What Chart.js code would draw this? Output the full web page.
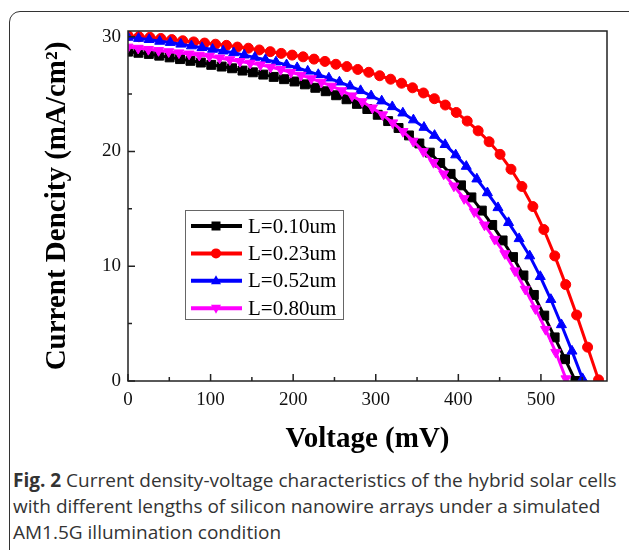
<!DOCTYPE html>
<html>
<head>
<meta charset="utf-8">
<script src="https://cdn.jsdelivr.net/npm/chart.js"></script>
<style>
  html, body { margin: 0; padding: 0; background: #fff; overflow: hidden; }
  body { width: 629px; height: 550px; position: relative; }
  #frame { position: absolute; left: 9px; top: 11px; width: 700px; height: 600px;
           border: 1.5px solid #333; border-radius: 11px; }
  #plot { position: absolute; left: 0; top: 0; }
  #caption { position: absolute; left: 13px; top: 467px; font-family: "Open Sans"; font-size: 19px;
             line-height: 26px; color: #333; white-space: nowrap; }
</style>
</head>
<body>
<div id="frame"></div>
<canvas id="plot" width="629" height="465"></canvas>
<div id="caption"><b>Fig. 2</b> Current density-voltage characteristics of the hybrid solar cells<br>with different lengths of silicon nanowire arrays under a simulated<br>AM1.5G illumination condition</div>
<script>
// series: voltage (mV) and current density (mA/cm2)
const labels = ['L=0.10um', 'L=0.23um', 'L=0.52um', 'L=0.80um'];

const vBlack = [0, 12.6, 25.2, 37.8, 50.4, 63, 75.6, 88.2, 100.8, 113.4, 126, 138.6, 151.2, 163.8, 176.4,
  189, 201.6, 214.2, 226.8, 239.4, 252, 264.6, 277.2, 289.8, 302.4, 315, 327.6, 340.2, 352.8, 365.4,
  378, 390.6, 403.2, 415.8, 428.4, 441, 453.6, 466.2, 478.8, 491.4, 504, 516.6, 529.2, 541.8];
const jBlack = [28.7, 28.6, 28.5, 28.35, 28.2, 28.05, 27.9, 27.75, 27.55, 27.4, 27.25, 27.05, 26.9, 26.7, 26.5,
  26.3, 26.1, 25.85, 25.55, 25.25, 24.9, 24.55, 24.15, 23.7, 23.2, 22.65, 22.05, 21.4, 20.7, 19.9,
  19.0, 18.05, 17.05, 16.0, 14.85, 13.6, 12.25, 10.8, 9.2, 7.5, 5.7, 3.8, 1.9, 0];

const vRed = [0, 13.25, 26.5, 39.75, 53, 66.25, 79.5, 92.75, 106, 119.25, 132.5, 145.75, 159, 172.25, 185.5,
  198.75, 212, 225.25, 238.5, 251.75, 265, 278.25, 291.5, 304.75, 318, 331.25, 344.5, 357.75, 371, 384.25,
  397.5, 410.75, 424, 437.25, 450.5, 463.75, 477, 490.25, 503.5, 516.75, 530, 543.25, 556.5, 569.75];
const jRed = [30.1, 30.0, 29.95, 29.85, 29.75, 29.65, 29.55, 29.45, 29.35, 29.25, 29.1, 29.0, 28.85, 28.7, 28.55,
  28.4, 28.25, 28.05, 27.85, 27.6, 27.4, 27.15, 26.9, 26.6, 26.3, 25.95, 25.55, 25.1, 24.6, 24.05,
  23.4, 22.65, 21.8, 20.85, 19.75, 18.45, 16.95, 15.2, 13.2, 10.9, 8.4, 5.75, 2.95, 0.1];

const vBlue = [0, 12.8, 25.6, 38.4, 51.2, 64, 76.8, 89.6, 102.4, 115.2, 128, 140.8, 153.6, 166.4, 179.2,
  192, 204.8, 217.6, 230.4, 243.2, 256, 268.8, 281.6, 294.4, 307.2, 320, 332.8, 345.6, 358.4, 371.2,
  384, 396.8, 409.6, 422.4, 435.2, 448, 460.8, 473.6, 486.4, 499.2, 512, 524.8, 537.6, 550.4];
const jBlue = [29.95, 29.85, 29.75, 29.6, 29.5, 29.35, 29.2, 29.05, 28.9, 28.75, 28.6, 28.4, 28.2, 28.0, 27.8,
  27.55, 27.3, 27.0, 26.7, 26.4, 26.05, 25.7, 25.3, 24.85, 24.4, 23.9, 23.35, 22.75, 22.1, 21.4,
  20.6, 19.7, 18.7, 17.6, 16.4, 15.1, 13.8, 12.4, 10.9, 9.1, 7.1, 4.9, 2.6, 0.2];

const vMagenta = [0, 12.33, 24.66, 37, 49.3, 61.65, 74, 86.3, 98.6, 111, 123.3, 135.6, 148, 160.3, 172.6,
  185, 197.3, 209.6, 222, 234.3, 246.6, 259, 271.3, 283.6, 296, 308.3, 320.6, 333, 345.3, 357.6,
  370, 382.3, 394.6, 407, 419.3, 431.6, 444, 456.3, 468.6, 481, 493.3, 505.6, 518, 530.3];
const jMagenta = [29.1, 29.0, 28.9, 28.8, 28.7, 28.6, 28.5, 28.4, 28.3, 28.15, 28.0, 27.85, 27.7, 27.55, 27.35,
  27.15, 26.9, 26.65, 26.35, 26.05, 25.7, 25.3, 24.85, 24.35, 23.8, 23.2, 22.5, 21.75, 20.9, 20.0,
  19.05, 18.05, 17.0, 15.9, 14.75, 13.6, 12.35, 11.1, 9.6, 8.0, 6.3, 4.5, 2.5, 0.2];

const xTicks = [0, 100, 200, 300, 400, 500];
const yTicks = [0, 10, 20, 30];
const xTickMarks = [0, 50, 100, 150, 200, 250, 300, 350, 400, 450, 500, 550];
const yTickMarks = [0, 5, 10, 15, 20, 25, 30];

const colors = ['#000000', '#ff0000', '#0000ff', '#ff00ff'];
const styles = ['rect', 'circle', 'triangle', 'triangle'];

function pts(v, j) {
  return v.map((x, i) => ({ x: x, y: j[i] }));
}

function series(i, v, j, radius, rot) {
  return {
    label: labels[i],
    data: pts(v, j),
    borderColor: colors[i],
    backgroundColor: colors[i],
    borderWidth: 3,
    pointStyle: styles[i],
    pointRadius: radius,
    pointRotation: rot,
    pointBorderWidth: 1,
    pointBackgroundColor: colors[i],
    pointBorderColor: colors[i],
    tension: 0,
    order: 4 - i
  };
}

// frame + inward ticks
const frameTicks = {
  id: 'frameTicks',
  afterDraw(chart) {
    const { ctx, chartArea: a, scales } = chart;
    ctx.save();
    ctx.strokeStyle = '#222';
    ctx.lineWidth = 1.5;
    ctx.strokeRect(a.left, a.top, a.right - a.left, a.bottom - a.top);
    ctx.beginPath();
    xTickMarks.forEach(v => {
      const x = scales.x.getPixelForValue(v);
      const len = v % 100 === 0 ? 7 : 4;
      ctx.moveTo(x, a.bottom);
      ctx.lineTo(x, a.bottom - len);
    });
    yTickMarks.forEach(v => {
      const y = scales.y.getPixelForValue(v);
      const len = v % 10 === 0 ? 7 : 4;
      ctx.moveTo(a.left, y);
      ctx.lineTo(a.left + len, y);
    });
    ctx.stroke();
    ctx.restore();
  }
};

function marker(ctx, style, x, y, color) {
  ctx.fillStyle = color;
  ctx.beginPath();
  if (style === 'rect') {
    ctx.rect(x - 4.5, y - 4.5, 9, 9);
  } else if (style === 'circle') {
    ctx.arc(x, y, 5, 0, Math.PI * 2);
  } else if (style === 'up') {
    ctx.moveTo(x, y - 5.5); ctx.lineTo(x + 5, y + 3.5); ctx.lineTo(x - 5, y + 3.5);
  } else {
    ctx.moveTo(x, y + 5.5); ctx.lineTo(x + 5, y - 3.5); ctx.lineTo(x - 5, y - 3.5);
  }
  ctx.closePath();
  ctx.fill();
}

const boxLegend = {
  id: 'boxLegend',
  afterDraw(chart) {
    const { ctx, chartArea: a } = chart;
    const left = a.left + 57, top = a.top + 179;
    ctx.save();
    ctx.fillStyle = '#fff';
    ctx.fillRect(left, top, 158, 109);
    ctx.strokeStyle = '#666';
    ctx.lineWidth = 1;
    ctx.strokeRect(left + 0.5, top + 0.5, 158, 109);
    const kinds = ['rect', 'circle', 'up', 'down'];
    labels.forEach((t, i) => {
      const y = top + 16 + i * 27.4;
      ctx.strokeStyle = colors[i];
      ctx.lineWidth = 4;
      ctx.beginPath();
      ctx.moveTo(left + 6, y);
      ctx.lineTo(left + 57, y);
      ctx.stroke();
      marker(ctx, kinds[i], left + 31, y, colors[i]);
      ctx.fillStyle = '#000';
      ctx.font = '21px "Liberation Serif"';
      ctx.textBaseline = 'middle';
      ctx.textAlign = 'left';
      ctx.fillText(t, left + 63, y + 1);
    });
    ctx.restore();
  }
};

new Chart(document.getElementById('plot'), {
  type: 'line',
  data: {
    datasets: [
      series(0, vBlack, jBlack, 6.3, 0),
      series(1, vRed, jRed, 5, 0),
      series(2, vBlue, jBlue, 5.8, 0),
      series(3, vMagenta, jMagenta, 5.8, 180)
    ]
  },
  options: {
    responsive: false,
    animation: false,
    devicePixelRatio: 1,
    layout: { padding: { left: 40, right: 22, top: 31, bottom: 8 } },
    plugins: { legend: { display: false }, tooltip: { enabled: false } },
    scales: {
      x: {
        type: 'linear',
        min: 0,
        max: 580,
        afterBuildTicks: s => { s.ticks = xTicks.map(v => ({ value: v })); },
        afterFit: s => { s.height = 76; },
        grid: { display: false, drawTicks: false },
        border: { display: false },
        ticks: { padding: 8, color: '#111', font: { family: 'Liberation Serif', size: 19 } },
        title: {
          display: true,
          text: 'Voltage (mV)',
          color: '#000',
          padding: { top: 0, bottom: 0 },
          font: { family: 'Liberation Serif', size: 29, weight: 'bold' }
        }
      },
      y: {
        type: 'linear',
        min: 0,
        max: 30.5,
        afterBuildTicks: s => { s.ticks = yTicks.map(v => ({ value: v })); },
        afterFit: s => { s.width = 88; },
        grid: { display: false, drawTicks: false },
        border: { display: false },
        ticks: { padding: 7, color: '#111', font: { family: 'Liberation Serif', size: 19 } },
        title: {
          display: true,
          text: 'Current Dencity (mA/cm²)',
          color: '#000',
          padding: { top: 0, bottom: 0 },
          font: { family: 'Liberation Serif', size: 29, weight: 'bold' }
        }
      }
    }
  },
  plugins: [frameTicks, boxLegend]
});
</script>
</body>
</html>
